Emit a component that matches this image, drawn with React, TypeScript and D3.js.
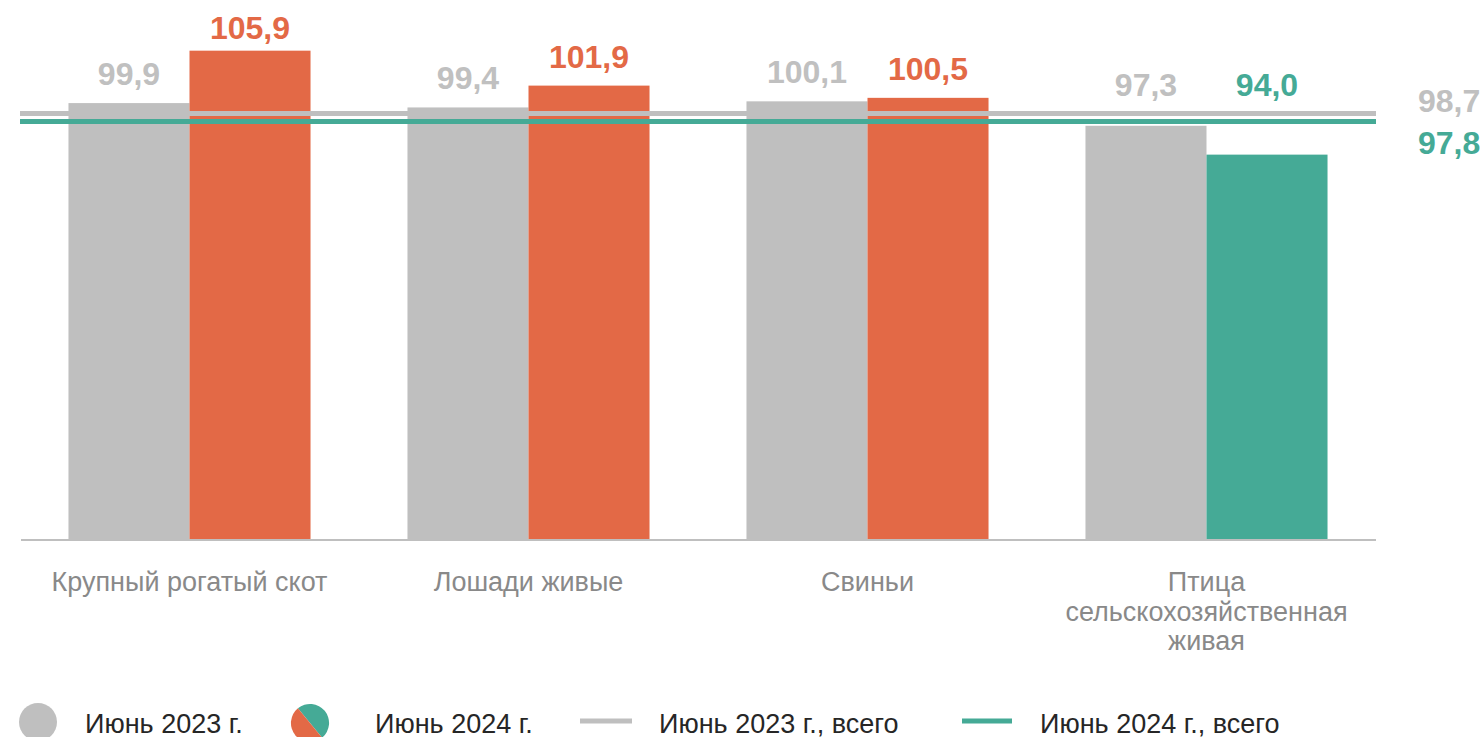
import React, { useEffect, useRef } from 'react';
import * as d3 from 'd3';

// categories (multi-line labels split by \n)
const categories = [
  'Крупный рогатый скот',
  'Лошади живые',
  'Свиньи',
  'Птица\nсельскохозяйственная\nживая',
];
const values2023 = [99.9, 99.4, 100.1, 97.3];
const values2024 = [105.9, 101.9, 100.5, 94.0];
const total2023 = 98.7;
const total2024 = 97.8;
const legendLabels = ['Июнь 2023 г.', 'Июнь 2024 г.', 'Июнь 2023 г., всего', 'Июнь 2024 г., всего'];

const GRAY = '#bfbfbf';
const ORANGE = '#e36946';
const TEAL = '#45aa96';
const FONT = "Arial, 'Liberation Sans', sans-serif";

export default function App() {
  const svgRef = useRef<SVGSVGElement>(null);
  const W = 1483, H = 737;

  useEffect(() => {
    const svg = d3.select(svgRef.current);
    svg.selectAll('*').remove();

    const left = 20, right = 1376, base = 539;
    const fmt = (v: number) => v.toFixed(1).replace('.', ',');

    // Scales
    const x0 = d3.scaleBand<string>().domain(categories).range([left, right])
      .paddingInner(0.286).paddingOuter(0.143);
    const x1 = d3.scaleBand<string>().domain(['2023', '2024']).range([0, x0.bandwidth()]);
    const y = d3.scaleLinear().domain([50, 111.7]).range([base, 0]);

    const color24 = (v: number) => (v >= 100 ? ORANGE : TEAL);

    // Bars
    const g = svg.append('g');
    categories.forEach((c, i) => {
      const bx = x0(c)!;
      g.append('rect').attr('x', bx + x1('2023')!).attr('y', y(values2023[i]))
        .attr('width', x1.bandwidth()).attr('height', base - y(values2023[i])).attr('fill', GRAY);
      g.append('rect').attr('x', bx + x1('2024')!).attr('y', y(values2024[i]))
        .attr('width', x1.bandwidth()).attr('height', base - y(values2024[i])).attr('fill', color24(values2024[i]));
    });

    // Axis line
    g.append('line').attr('x1', left + 1).attr('x2', right).attr('y1', base + 1).attr('y2', base + 1)
      .attr('stroke', GRAY).attr('stroke-width', 2);

    // Total lines
    g.append('line').attr('x1', left).attr('x2', right).attr('y1', y(total2023)).attr('y2', y(total2023))
      .attr('stroke', GRAY).attr('stroke-width', 5);
    g.append('line').attr('x1', left).attr('x2', right).attr('y1', y(total2024)).attr('y2', y(total2024))
      .attr('stroke', TEAL).attr('stroke-width', 5);

    // Value labels: above bar, kept above the total line and inside the top edge
    const labelY = (v: number) => Math.max(Math.min(y(v), y(total2023)) - 18, 39);
    categories.forEach((c, i) => {
      const bx = x0(c)!;
      g.append('text').attr('x', bx + x1('2023')! + x1.bandwidth() / 2).attr('y', labelY(values2023[i]))
        .attr('text-anchor', 'middle').attr('font-family', FONT).attr('font-size', 32).attr('font-weight', 'bold')
        .attr('fill', '#c0c0c0').text(fmt(values2023[i]));
      g.append('text').attr('x', bx + x1('2024')! + x1.bandwidth() / 2).attr('y', labelY(values2024[i]))
        .attr('text-anchor', 'middle').attr('font-family', FONT).attr('font-size', 32).attr('font-weight', 'bold')
        .attr('fill', color24(values2024[i])).text(fmt(values2024[i]));
    });

    // Totals at right
    g.append('text').attr('x', 1418).attr('y', y(total2023) - 1.5).attr('font-family', FONT)
      .attr('font-size', 32).attr('font-weight', 'bold').attr('fill', '#c0c0c0').text(fmt(total2023));
    g.append('text').attr('x', 1418).attr('y', y(total2024) + 33).attr('font-family', FONT)
      .attr('font-size', 32).attr('font-weight', 'bold').attr('fill', TEAL).text(fmt(total2024));

    // Category labels
    categories.forEach((c) => {
      const t = g.append('text').attr('x', x0(c)! + x0.bandwidth() / 2).attr('y', 591)
        .attr('text-anchor', 'middle').attr('font-family', FONT).attr('font-size', 27).attr('fill', '#898989');
      c.split('\n').forEach((line, k) => {
        t.append('tspan').attr('x', x0(c)! + x0.bandwidth() / 2).attr('y', 591 + k * 29.5).text(line);
      });
    });

    // Legend
    const ly = 722, ty = 733;
    const lg = svg.append('g');
    lg.append('circle').attr('cx', 38).attr('cy', ly).attr('r', 19).attr('fill', GRAY);
    const arc = d3.arc<any>().innerRadius(0).outerRadius(19);
    const a0 = (-39.5 * Math.PI) / 180;
    lg.append('path').attr('transform', `translate(310,${ly + 1})`)
      .attr('d', arc({ startAngle: a0, endAngle: a0 + Math.PI })).attr('fill', TEAL);
    lg.append('path').attr('transform', `translate(310,${ly + 1})`)
      .attr('d', arc({ startAngle: a0 + Math.PI, endAngle: a0 + 2 * Math.PI })).attr('fill', ORANGE);
    lg.append('line').attr('x1', 580).attr('x2', 632).attr('y1', ly - 1).attr('y2', ly - 1)
      .attr('stroke', GRAY).attr('stroke-width', 5);
    lg.append('line').attr('x1', 962).attr('x2', 1012).attr('y1', ly - 1).attr('y2', ly - 1)
      .attr('stroke', TEAL).attr('stroke-width', 5);
    [85, 375, 659, 1040].forEach((lx, i) => {
      lg.append('text').attr('x', lx).attr('y', ty).attr('font-family', FONT).attr('font-size', 27)
        .attr('fill', '#262626').text(legendLabels[i]);
    });
  }, []);

  return (
    <svg ref={svgRef} width={W} height={H} viewBox={`0 0 ${W} ${H}`}
      style={{ position: 'absolute', left: 0, top: 0, background: '#fff' }} />
  );
}
